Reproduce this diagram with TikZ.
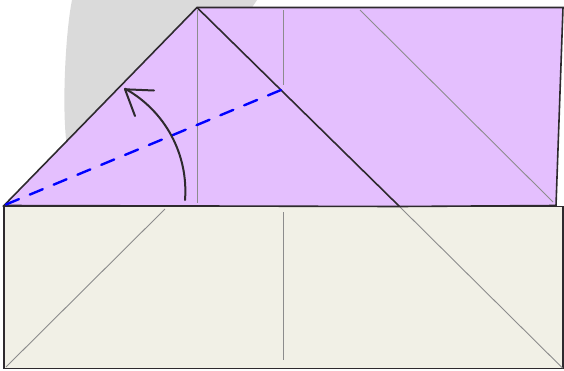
\documentclass[tikz,border=0pt]{standalone}
\usetikzlibrary{arrows.meta}
\definecolor{bggray}{HTML}{DADADA}
\definecolor{beige}{HTML}{F1F0E6}
\definecolor{lilac}{HTML}{E4BFFE}
\definecolor{edge}{HTML}{2E2A2E}
\definecolor{creasecol}{HTML}{8C8C8C}
\tikzset{
  paper/.style={draw=edge, line width=1.6pt, line join=miter},
  crease/.style={draw=creasecol, line width=0.9pt},
  valley/.style={draw=blue, line width=2.4pt, line cap=round, dash pattern=on 14pt off 11.8pt},
  foldarrow/.style={draw=edge, line width=2pt, line cap=round, line join=round}
}
\begin{document}
\begin{tikzpicture}[x=1pt,y=-1pt]
\useasboundingbox (0,0) rectangle (564,370);
% gray background shape
\fill[bggray] (72,0) .. controls (66,30) and (63,90) .. (65,125) .. controls (65.5,135) and (66,140) .. (67,146)
  -- (240,146) -- (251,9) -- (257,0) -- cycle;
% bottom layer
\draw[paper, fill=beige] (4,206.5) rectangle (563,368.5);
\draw[crease] (6,367) -- (165,209);
\draw[crease] (283,212) -- (283,360);
\draw[crease] (400,207) -- (562.5,368);
% top layer
\coordinate (L) at (4,205.5);
\coordinate (A) at (197,7.5);
\coordinate (TR) at (563,7.5);
\coordinate (BR) at (556,205.5);
\coordinate (M) at (399.5,206.5);
\draw[paper, fill=lilac] (L) -- (A) -- (TR) -- (BR) -- (M) -- cycle;
\draw[crease] (197.7,10) -- (197.7,203);
\draw[crease] (283,10) -- (283,85);
\draw[crease] (360,10) -- (553,202);
\draw[paper] (A) -- (M);
% valley fold line
\coordinate (V) at (281,90);
\draw[valley] (6,204.5) -- (V);
% fold arrow
\draw[foldarrow] (185,200) arc[start angle=4.4, end angle=-61, radius=117];
\draw[foldarrow] (154,90.5) -- (125,89.3) -- (135,116);
\end{tikzpicture}
\end{document}
